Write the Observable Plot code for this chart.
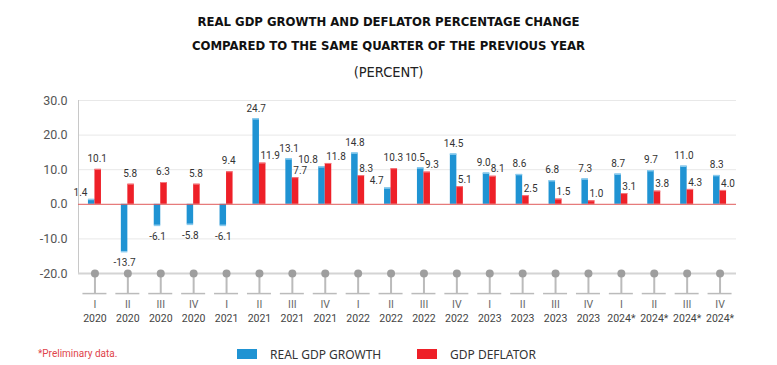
<!DOCTYPE html>
<html><head><meta charset="utf-8">
<script src="https://cdn.jsdelivr.net/npm/d3@7"></script>
<script src="https://cdn.jsdelivr.net/npm/@observablehq/plot@0.6"></script>
<style>
body{margin:0;background:#fff;width:777px;height:365px;overflow:hidden;position:relative;font-family:Roboto,sans-serif}
#title{height:88px;text-align:center;color:#111;font-family:"DejaVu Sans Condensed","Liberation Sans Narrow",sans-serif}
#title .l{font-weight:bold;font-size:13px;line-height:24px}
#title .p{font-size:14.5px;line-height:24px;margin-top:2px;color:#222}
#legend{position:absolute;left:0;top:340px;width:777px;height:25px;font-size:12px;color:#333;font-family:"Noto Sans",sans-serif}
.sw{position:absolute;width:20px;height:10px;top:9px}
.lt{position:absolute;top:6px}
</style></head><body>
<div id="title" style="padding-top:10px;box-sizing:border-box">
<div class="l">REAL GDP GROWTH AND DEFLATOR PERCENTAGE CHANGE</div>
<div class="l">COMPARED TO THE SAME QUARTER OF THE PREVIOUS YEAR</div>
<div class="p">(PERCENT)</div>
</div>
<div id="chart"></div>
<div id="legend">
<div class="lt" style="left:38px;font-size:10px;color:#e0444a;top:8px;font-family:Roboto,sans-serif">*Preliminary data.</div>
<div class="sw" style="left:237px;background:#1f93d3"></div>
<div class="lt" style="left:270px">REAL GDP GROWTH</div>
<div class="sw" style="left:417px;background:#ee2028"></div>
<div class="lt" style="left:450px">GDP DEFLATOR</div>
</div>
<script>
const quarters = ["I","II","III","IV","I","II","III","IV","I","II","III","IV","I","II","III","IV","I","II","III","IV"];
const years = ["2020","2020","2020","2020","2021","2021","2021","2021","2022","2022","2022","2022","2023","2023","2023","2023","2024*","2024*","2024*","2024*"];
const growth = [1.4,-13.7,-6.1,-5.8,-6.1,24.7,13.1,10.8,14.8,4.7,10.5,14.5,9.0,8.6,6.8,7.3,8.7,9.7,11.0,8.3];
const deflator = [10.1,5.8,6.3,5.8,9.4,11.9,7.7,11.8,8.3,10.3,9.3,5.1,8.1,2.5,1.5,1.0,3.1,3.8,4.3,4.0];
const yTicks = [-20,-10,0,10,20,30];

const rows = quarters.map((q,i)=>({i, q, year: years[i], g: growth[i], d: deflator[i]}));
const idx = rows.map(r=>r.i);
const bw = 658/20, barW = 6.5;
const pinBottom = -25.8;
const fmt = v => v.toFixed(1);

// label placement groups (avoid overlaps like the original)
const gNeg = rows.filter(r => r.g < 0);
const gRedTaller = rows.filter(r => r.g >= 0 && r.d > r.g);
const gClose = rows.filter(r => r.g >= r.d && r.g - r.d < 1.5);
const gClear = rows.filter(r => r.g >= r.d && r.g - r.d >= 1.5);
const dCentered = rows.filter(r => r.g < 0 || r.g < r.d / 2);
const dSide = rows.filter(r => !(r.g < 0 || r.g < r.d / 2));

const lab = {fill:"#333", fontSize:10};

const plot = Plot.plot({
  width: 777, height: 252,
  marginLeft: 78, marginRight: 41, marginTop: 12, marginBottom: 67,
  x: {type:"band", domain: idx, axis: null, padding: 0, round: false},
  y: {domain: [-20, 30], axis: null},
  style: {fontFamily: "Roboto, sans-serif", overflow: "visible"},
  marks: [
    Plot.ruleY(yTicks.filter(v=>v!==0 && v!==-20), {stroke:"#e8e8e8", strokeWidth:1}),
    Plot.frame({anchor:"left", stroke:"#c8c8c8"}),
    Plot.text(yTicks, {y: d=>d, text: fmt, frameAnchor:"left", dx:-11, textAnchor:"end", fill:"#555", fontSize:12.5}),
    Plot.barY(rows, {x:"i", y:"g", fill:"#1f93d3", insetLeft: bw/2 - barW, insetRight: bw/2}),
    Plot.tickY(rows, {x:"i", y:"g", stroke:"#8acbee", strokeWidth:1.5, insetLeft: bw/2 - barW, insetRight: bw/2}),
    Plot.barY(rows, {x:"i", y:"d", fill:"#ee2028", insetLeft: bw/2, insetRight: bw/2 - barW}),
    Plot.tickY(rows, {x:"i", y:"d", stroke:"#f37b80", strokeWidth:1, insetLeft: bw/2, insetRight: bw/2 - barW}),
    Plot.ruleY([0], {stroke:"#e05a5a", strokeWidth:1}),
    Plot.ruleY([-20], {stroke:"#d4d4d4", strokeWidth:2}),
    // growth labels
    Plot.text(gNeg, {x:"i", y:"g", text: d=>fmt(d.g), dx:-barW/2, dy:11, ...lab}),
    Plot.text(gClear, {x:"i", y:"g", text: d=>fmt(d.g), dx:-barW/2, dy:-10.5, ...lab}),
    Plot.text(gClose, {x:"i", y:"g", text: d=>fmt(d.g), dx:1, dy:-10.5, textAnchor:"end", ...lab}),
    Plot.text(gRedTaller, {x:"i", y:"g", text: d=>fmt(d.g), dx:-7.5, dy:-7, textAnchor:"end", ...lab}),
    // deflator labels
    Plot.text(dCentered, {x:"i", y:"d", text: d=>fmt(d.d), dx:barW/2 - 1, dy:-10.5, ...lab}),
    Plot.text(dSide, {x:"i", y:"d", text: d=>fmt(d.d), dx:1, dy:-7, textAnchor:"start", ...lab}),
    // category pins and labels
    Plot.ruleX(rows, {x:"i", y1:-20, y2:pinBottom, stroke:"#bbbbbb", strokeWidth:2}),
    Plot.tickY(rows, {x:"i", y: ()=>pinBottom, stroke:"#bbbbbb", strokeWidth:1.5, insetLeft: (bw-24)/2, insetRight:(bw-24)/2}),
    Plot.dot(rows, {x:"i", y: ()=>-20, r:4, fill:"#9e9e9e"}),
    Plot.text(rows, {x:"i", y: ()=>pinBottom, text:"q", dy:11, fill:"#666", fontSize:10.5}),
    Plot.text(rows, {x:"i", y: ()=>pinBottom, text:"year", dy:25, fill:"#444", fontSize:10.5})
  ]
});
document.getElementById("chart").appendChild(plot);
</script>
</body></html>
